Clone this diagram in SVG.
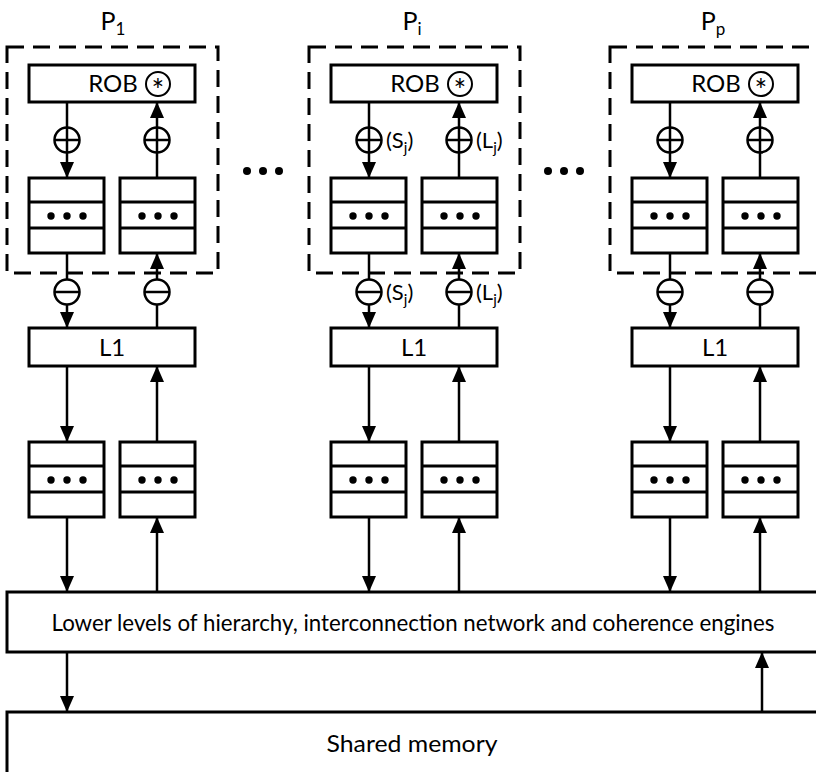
<svg xmlns="http://www.w3.org/2000/svg" width="816" height="772" viewBox="0 0 816 772">
  <style>
    .box { fill: #fff; stroke: #000; stroke-width: 3; }
    .dash { fill: none; stroke: #000; stroke-width: 3; stroke-dasharray: 17 9; }
    .div { stroke: #000; stroke-width: 3; }
    .wire { stroke: #000; stroke-width: 2.5; fill: none; }
    .op { fill: #fff; stroke: #000; stroke-width: 2.5; }
    .opl { stroke: #000; stroke-width: 2.5; }
    .dot { fill: #000; }
    text { font-family: "Lato", "Open Sans", "Liberation Sans", sans-serif; fill: #000; }
    .lbl { font-size: 24px; text-anchor: middle; }
    .ttl { font-size: 25px; text-anchor: middle; }
    .ann { font-size: 22px; }
    .big { font-size: 24px; text-anchor: middle; }
  </style>
  <defs>
    <marker id="arr" markerUnits="userSpaceOnUse" markerWidth="16" markerHeight="14" refX="16" refY="7" orient="auto">
      <path d="M0,0 L16,7 L0,14 z" fill="#000"/>
    </marker>
    <!-- FIFO buffer with three slots -->
    <g id="buf">
      <rect class="box" x="0" y="0" width="75" height="75"/>
      <line class="div" x1="0" y1="24" x2="75" y2="24"/>
      <line class="div" x1="0" y1="50" x2="75" y2="50"/>
      <circle class="dot" cx="22" cy="38" r="3.7"/>
      <circle class="dot" cx="38" cy="38" r="3.7"/>
      <circle class="dot" cx="54" cy="38" r="3.7"/>
    </g>
    <!-- processor core -->
    <g id="proc">
      <rect class="dash" x="7" y="47" width="211" height="226"/>
      <rect class="box" x="29" y="65" width="166" height="37"/>
      <text class="lbl" x="113" y="92">ROB</text>
      <circle cx="158" cy="84" r="12" fill="#fff" stroke="#000" stroke-width="2"/>
      <text x="158" y="101" font-family="Liberation Sans, sans-serif" font-size="30" text-anchor="middle">*</text>
      <use href="#buf" x="29" y="178"/>
      <use href="#buf" x="120" y="178"/>
      <rect class="box" x="29" y="328" width="166" height="38"/>
      <text class="lbl" x="112" y="356">L1</text>
      <use href="#buf" x="29" y="442"/>
      <use href="#buf" x="120" y="442"/>
    </g>
    <g id="plus">
      <circle class="op" cx="0" cy="0" r="12.5"/>
      <line class="opl" x1="-12.5" y1="0" x2="12.5" y2="0"/>
      <line class="opl" x1="0" y1="-12.5" x2="0" y2="12.5"/>
    </g>
    <g id="minus">
      <circle class="op" cx="0" cy="0" r="12.5"/>
      <line class="opl" x1="-12.5" y1="0" x2="12.5" y2="0"/>
    </g>
    <g id="wires">
      <line class="wire" x1="67" y1="102" x2="67" y2="178" marker-end="url(#arr)"/>
      <line class="wire" x1="157" y1="178" x2="157" y2="102" marker-end="url(#arr)"/>
      <line class="wire" x1="67" y1="253" x2="67" y2="328" marker-end="url(#arr)"/>
      <line class="wire" x1="157" y1="328" x2="157" y2="253" marker-end="url(#arr)"/>
      <line class="wire" x1="67" y1="366" x2="67" y2="442" marker-end="url(#arr)"/>
      <line class="wire" x1="157" y1="442" x2="157" y2="366" marker-end="url(#arr)"/>
      <line class="wire" x1="67" y1="517" x2="67" y2="592" marker-end="url(#arr)"/>
      <line class="wire" x1="157" y1="592" x2="157" y2="517" marker-end="url(#arr)"/>
      <use href="#plus" x="67" y="140"/>
      <use href="#plus" x="157" y="140"/>
      <use href="#minus" x="67" y="292"/>
      <use href="#minus" x="157" y="292"/>
    </g>
  </defs>

  <rect width="816" height="772" fill="#fff"/>

  <!-- processors -->
  <g id="p1">
    <use href="#proc"/>
    <text class="ttl" x="113" y="30">P<tspan font-size="17" dy="5">1</tspan></text>
  </g>
  <g id="pi" transform="translate(302,0)">
    <use href="#proc"/>
    <text class="ttl" x="110" y="30">P<tspan font-size="17" dy="5">i</tspan></text>
  </g>
  <g id="pp" transform="translate(603,0)">
    <use href="#proc"/>
    <text class="ttl" x="110" y="30">P<tspan font-size="17" dy="5">p</tspan></text>
  </g>

  <!-- ellipses between processors -->
  <g id="gap1">
    <circle class="dot" cx="247" cy="171" r="4"/>
    <circle class="dot" cx="263" cy="171" r="4"/>
    <circle class="dot" cx="279" cy="171" r="4"/>
  </g>
  <g id="gap2">
    <circle class="dot" cx="548" cy="171" r="4"/>
    <circle class="dot" cx="564" cy="171" r="4"/>
    <circle class="dot" cx="580" cy="171" r="4"/>
  </g>

  <!-- shared levels -->
  <g id="lower">
    <rect class="box" x="7" y="592" width="811" height="60"/>
    <text class="big" x="413" y="631" textLength="723" lengthAdjust="spacingAndGlyphs">Lower levels of hierarchy, interconnection network and coherence engines</text>
  </g>
  <g id="memory">
    <rect class="box" x="7" y="712" width="811" height="70"/>
    <text class="big" x="412" y="752" textLength="171" lengthAdjust="spacingAndGlyphs">Shared memory</text>
  </g>

  <!-- connectors -->
  <g id="connectors">
    <use href="#wires"/>
    <use href="#wires" transform="translate(302,0)"/>
    <use href="#wires" transform="translate(603,0)"/>
    <line class="wire" x1="67" y1="652" x2="67" y2="712" marker-end="url(#arr)"/>
    <line class="wire" x1="762" y1="712" x2="762" y2="652" marker-end="url(#arr)"/>
    <text class="ann" x="386" y="148">(S<tspan font-size="15" dy="5">j</tspan><tspan dy="-5">)</tspan></text>
    <text class="ann" x="476" y="148">(L<tspan font-size="15" dy="5">j</tspan><tspan dy="-5">)</tspan></text>
    <text class="ann" x="386" y="300">(S<tspan font-size="15" dy="5">j</tspan><tspan dy="-5">)</tspan></text>
    <text class="ann" x="476" y="300">(L<tspan font-size="15" dy="5">j</tspan><tspan dy="-5">)</tspan></text>
  </g>
</svg>
